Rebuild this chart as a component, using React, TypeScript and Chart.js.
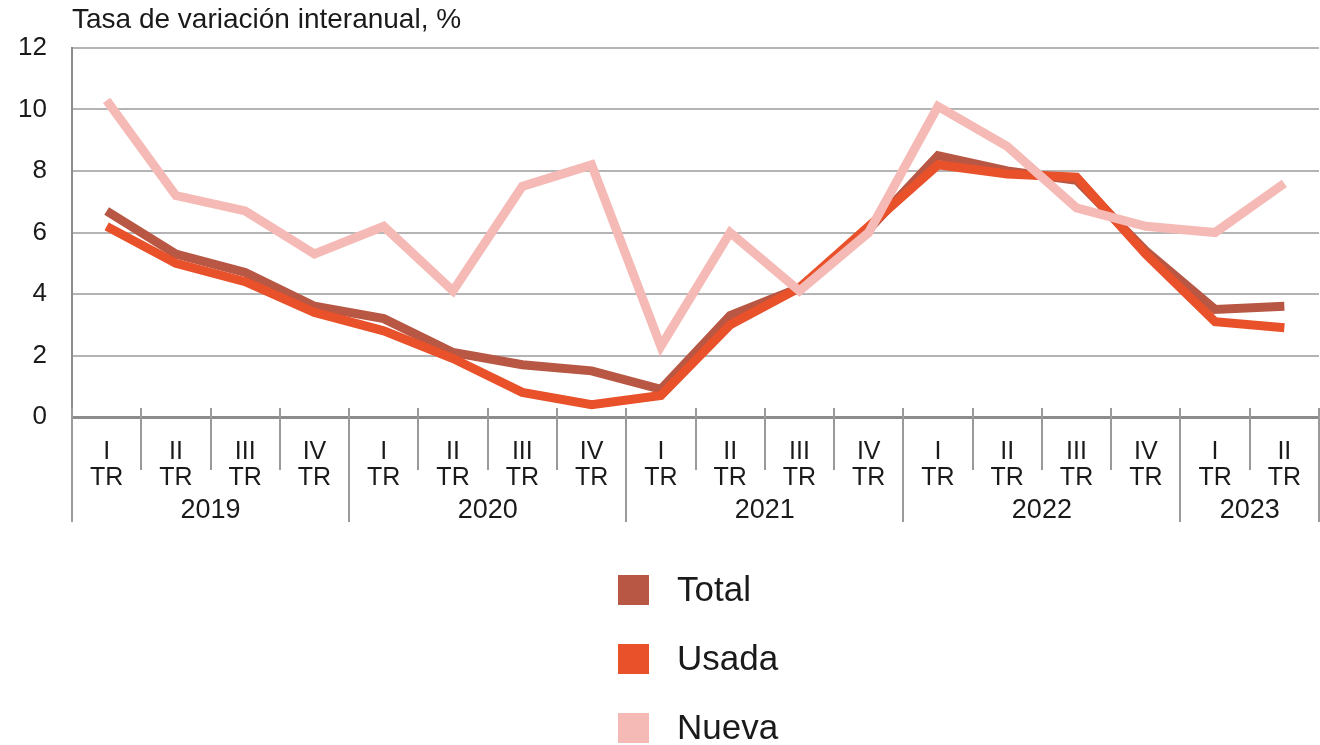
import React, { useEffect, useRef } from "react";
import { Chart, registerables } from "chart.js";

Chart.register(...registerables);

const quarters = ["I", "II", "III", "IV", "I", "II", "III", "IV", "I", "II", "III", "IV", "I", "II", "III", "IV", "I", "II"];
const years = ["2019", "2020", "2021", "2022", "2023"];
const quartersPerYear = [4, 4, 4, 4, 2];
const yTicks = [0, 2, 4, 6, 8, 10, 12];

const total = [6.7, 5.3, 4.7, 3.6, 3.2, 2.1, 1.7, 1.5, 0.9, 3.3, 4.2, 6.1, 8.5, 8.0, 7.7, 5.4, 3.5, 3.6];
const usada = [6.2, 5.0, 4.4, 3.4, 2.8, 1.9, 0.8, 0.4, 0.7, 3.0, 4.2, 6.2, 8.2, 7.9, 7.8, 5.3, 3.1, 2.9];
const nueva = [10.3, 7.2, 6.7, 5.3, 6.2, 4.1, 7.5, 8.2, 2.3, 6.0, 4.1, 6.0, 10.1, 8.8, 6.8, 6.2, 6.0, 7.6];

const seriesNames = ["Total", "Usada", "Nueva"];
const seriesColors = ["#B85744", "#E9512B", "#F5BAB5"];
const yTitle = "Tasa de variación interanual, %";

const FONT = "'Liberation Sans', Arial, Helvetica, sans-serif";
const TEXT = "#1a1a1a";
const AXIS = "#8c8c8c";

const decorPlugin = {
  id: "decor",
  afterDraw(chart: any) {
    const ctx = chart.ctx;
    const xs = chart.scales.x;
    const area = chart.chartArea;
    const y0 = area.bottom;
    ctx.save();
    // title
    ctx.fillStyle = TEXT;
    ctx.font = `28px ${FONT}`;
    ctx.textAlign = "left";
    ctx.textBaseline = "alphabetic";
    ctx.fillText(yTitle, area.left, 28);

    // separators
    ctx.strokeStyle = "#9a9a9a";
    ctx.lineWidth = 2;
    const yearStarts = new Set<number>();
    let acc = 0;
    yearStarts.add(0);
    quartersPerYear.forEach((n) => {
      acc += n;
      yearStarts.add(acc);
    });
    for (let i = 0; i <= quarters.length; i++) {
      const x = Math.round(xs.getPixelForValue(i - 0.5));
      const isYear = yearStarts.has(i);
      ctx.beginPath();
      ctx.moveTo(x, y0 - 9);
      ctx.lineTo(x, isYear ? 522 : 470);
      ctx.stroke();
    }

    // quarter labels
    ctx.fillStyle = TEXT;
    ctx.font = `25px ${FONT}`;
    ctx.textAlign = "center";
    ctx.textBaseline = "middle";
    quarters.forEach((q, i) => {
      const x = xs.getPixelForValue(i);
      ctx.fillText(q, x, 452);
      ctx.fillText("TR", x, 478);
    });
    // year labels
    ctx.font = `27px ${FONT}`;
    let start = 0;
    years.forEach((yr, k) => {
      const n = quartersPerYear[k];
      const xa = xs.getPixelForValue(start - 0.5);
      const xb = xs.getPixelForValue(start + n - 0.5);
      ctx.fillText(yr, (xa + xb) / 2, 511);
      start += n;
    });

    // legend
    ctx.font = `35px ${FONT}`;
    ctx.textAlign = "left";
    const rows = [590, 659, 728];
    seriesNames.forEach((name, i) => {
      ctx.fillStyle = seriesColors[i];
      ctx.fillRect(618, rows[i] - 15, 31, 30);
      ctx.fillStyle = TEXT;
      ctx.fillText(name, 677, rows[i] + 1);
    });
    ctx.restore();
  },
};

export default function App() {
  const ref = useRef<HTMLCanvasElement | null>(null);
  useEffect(() => {
    document.body.style.margin = "0";
    const canvas = ref.current;
    if (!canvas) return;
    const seriesData = [total, usada, nueva];
    const chart = new Chart(canvas, {
      type: "line",
      data: {
        labels: quarters,
        datasets: seriesNames.map((name, i) => ({
          label: name,
          data: seriesData[i],
          borderColor: seriesColors[i],
          backgroundColor: seriesColors[i],
          borderWidth: 9,
          pointRadius: 0,
          tension: 0,
          borderCapStyle: "butt",
          borderJoinStyle: "miter",
          order: 3 - i,
        })),
      },
      options: {
        responsive: false,
        animation: false,
        devicePixelRatio: 1,
        layout: { padding: { top: 48, right: 1, left: 0, bottom: 0 } },
        plugins: {
          legend: { display: false },
          title: { display: false },
          tooltip: { enabled: false },
        },
        scales: {
          x: {
            type: "category",
            offset: true,
            grid: { display: false },
            border: { display: false },
            ticks: { display: false },
            afterFit: (s: any) => {
              s.height = 328;
            },
          },
          y: {
            min: 0,
            max: 12,
            afterBuildTicks: (s: any) => {
              s.ticks = yTicks.map((v) => ({ value: v }));
            },
            grid: {
              drawTicks: false,
              color: (c: any) => (c.tick && c.tick.value === 0 ? AXIS : "#b4b4b4"),
              lineWidth: (c: any) => (c.tick && c.tick.value === 0 ? 3 : 2),
            },
            border: { display: true, color: AXIS, width: 2 },
            ticks: {
              padding: 25,
              color: TEXT,
              font: { family: FONT, size: 26 },
              callback: (v: any) => String(v),
            },
            afterFit: (s: any) => {
              s.width = 72;
            },
          },
        },
      },
      plugins: [decorPlugin],
    });
    return () => chart.destroy();
  }, []);
  return (
    <div style={{ width: 1320, height: 745, position: "relative", background: "#fff" }}>
      <canvas ref={ref} width={1320} height={745} style={{ display: "block" }} />
    </div>
  );
}
